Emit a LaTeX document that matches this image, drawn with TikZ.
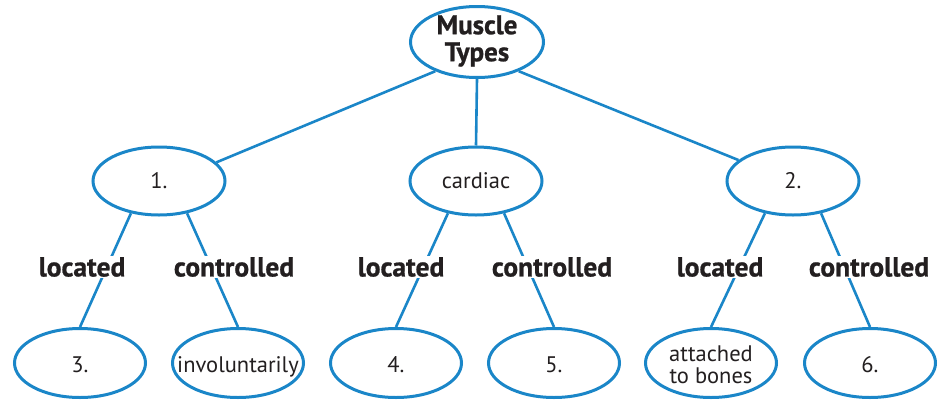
\documentclass[tikz,border=0pt]{standalone}
\usepackage{fontspec}
\setmainfont{PT Sans}[BoldFeatures={FakeBold=0.8}]
\usetikzlibrary{shapes.geometric}
\definecolor{cmblue}{HTML}{1A86C8}
\definecolor{cmtext}{HTML}{231F20}
\begin{document}
\begin{tikzpicture}[x=1pt,y=-1pt,
  oval/.style={ellipse, draw=cmblue, line width=3pt, fill=white, inner sep=0pt,
    minimum width=132pt, minimum height=68pt},
  bigoval/.style={oval, minimum width=133pt, minimum height=71pt},
  lowoval/.style={oval, minimum width=131pt, minimum height=69pt},
  txt/.style={inner sep=0pt, text=cmtext, font=\fontsize{22.5}{22}\selectfont, align=center},
  title/.style={inner sep=0pt, text=cmtext, font=\bfseries\fontsize{27}{27}\selectfont, align=center},
  link/.style={draw=cmblue, line width=2.6pt},
  lbl/.style={fill=white, inner sep=1.5pt, text=cmtext, font=\bfseries\fontsize{27.5}{27}\selectfont}]
\useasboundingbox[fill=white] (0,0) rectangle (943,402);

% ellipses
\node[bigoval] (mt) at (477,42) {};
\node[oval] (n1) at (159,181) {};
\node[oval] (cd) at (476,181) {};
\node[oval] (n2) at (793,181) {};
\node[lowoval] (b3) at (80,363) {};
\node[lowoval] (bi) at (238,363) {};
\node[lowoval] (b4) at (396,363) {};
\node[lowoval] (b5) at (554,363) {};
\node[lowoval] (ba) at (711,363) {};
\node[lowoval] (b6) at (870,363) {};

% texts inside
\node[title] (mtt) at (477,41) {Muscle\\Types};
\node[txt, anchor=base] (n1t) at (159,188) {1.};
\node[txt, anchor=base] (cdt) at (476,188) {cardiac};
\node[txt, anchor=base] (n2t) at (793,188) {2.};
\node[txt, anchor=base] (b3t) at (80,372) {3.};
\node[txt, anchor=base] (bit) at (238,372) {involuntarily};
\node[txt, anchor=base] (b4t) at (396,372) {4.};
\node[txt, anchor=base] (b5t) at (554,372) {5.};
\node[txt] (bat) at (711,365) {attached\\to bones};
\node[txt, anchor=base] (b6t) at (870,372) {6.};

% connectors
\draw[link] (mt.215) -- (n1.18);
\draw[link] (mt.south) -- (cd.north);
\draw[link] (mt.325) -- (n2.159);
\draw[link] (n1.229) -- (b3.north);
\draw[link] (n1.311) -- (bi.north);
\draw[link] (cd.229) -- (b4.north);
\draw[link] (cd.311) -- (b5.north);
\draw[link] (n2.229) -- (ba.north);
\draw[link] (n2.311) -- (b6.north);

% connector labels
\node[lbl] (l1) at (82,267) {located};
\node[lbl] (c1) at (234,267) {controlled};
\node[lbl] (l2) at (401,267) {located};
\node[lbl] (c2) at (552,267) {controlled};
\node[lbl] (l3) at (720,267) {located};
\node[lbl] (c3) at (869,267) {controlled};
\end{tikzpicture}
\end{document}
